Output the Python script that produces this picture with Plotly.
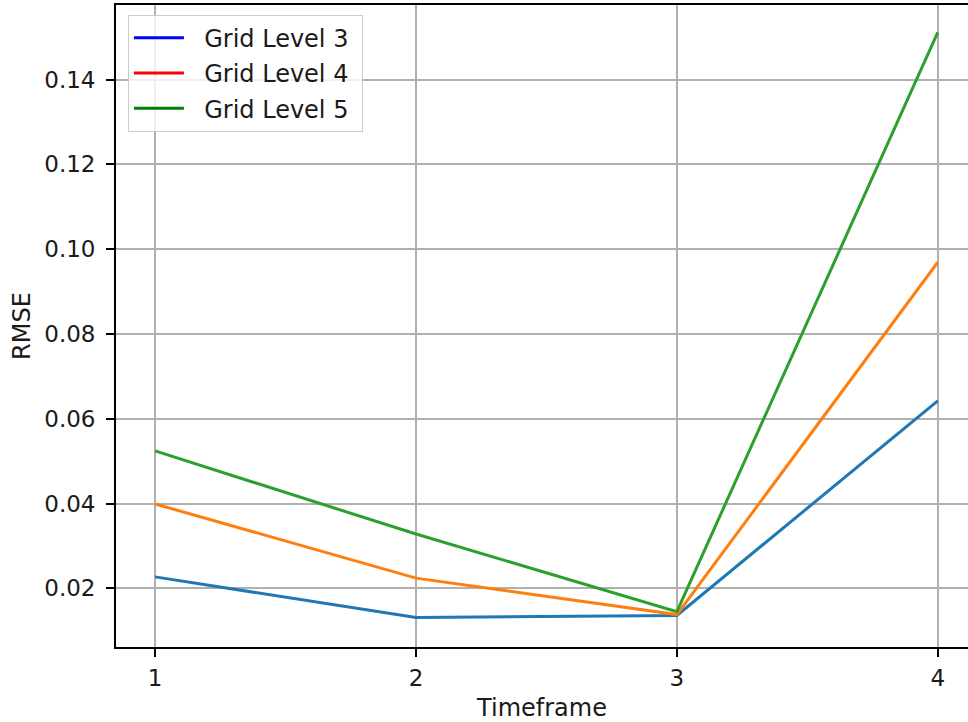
import plotly.graph_objects as go

# RMSE per timeframe for each grid level
timeframes = [1, 2, 3, 4]
rmse_level3 = [0.0227, 0.0131, 0.0136, 0.0642]
rmse_level4 = [0.0399, 0.0224, 0.0138, 0.0969]
rmse_level5 = [0.0524, 0.0328, 0.0145, 0.1511]

series_names = ["Grid Level 3", "Grid Level 4", "Grid Level 5"]
line_colors = ["#1f77b4", "#ff7f0e", "#2ca02c"]
legend_colors = ["blue", "red", "green"]
y_ticks = [0.02, 0.04, 0.06, 0.08, 0.10, 0.12, 0.14]

FONT = "DejaVu Sans"
TEXT = "#1a1a1a"
NBSP = "\u00a0"

fig = go.Figure()

for values, color in zip([rmse_level3, rmse_level4, rmse_level5], line_colors):
    fig.add_trace(go.Scatter(
        x=timeframes, y=values, mode="lines",
        line=dict(color=color, width=3),
        showlegend=False, hoverinfo="x+y",
    ))

# legend handles carry their own colours
for name, color in zip(series_names, legend_colors):
    fig.add_trace(go.Scatter(
        x=[None], y=[None], mode="lines", name=NBSP * 2 + name + NBSP,
        line=dict(color=color, width=3), legendgroup=name,
    ))

axis_common = dict(
    showgrid=True, gridcolor="#b0b0b0", gridwidth=1.6,
    showline=True, linecolor="black", linewidth=1.8,
    ticks="outside", ticklen=8, tickwidth=1.8, tickcolor="black",
    tickfont=dict(family=FONT, size=23, color=TEXT),
    zeroline=False,
)

fig.update_layout(
    width=968, height=722,
    margin=dict(l=116, r=0, t=5, b=75),
    paper_bgcolor="white", plot_bgcolor="white",
    font=dict(family=FONT, size=23, color=TEXT),
    xaxis=dict(
        **axis_common,
        range=[0.85, 4.116],
        tickvals=timeframes, ticktext=[str(t) for t in timeframes],
        mirror=True, ticklabelstandoff=1,
        title=dict(text="Timeframe", font=dict(family=FONT, size=24, color=TEXT), standoff=11),
    ),
    yaxis=dict(
        **axis_common,
        range=[0.00616, 0.15757],
        tickvals=y_ticks, ticktext=[f"{v:.2f}" for v in y_ticks],
        ticklabelstandoff=6,
        title=dict(text="RMSE", font=dict(family=FONT, size=24, color=TEXT), standoff=7),
    ),
    legend=dict(
        x=0.014, y=0.985, xanchor="left", yanchor="top",
        bgcolor="rgba(255,255,255,0.8)", bordercolor="#cccccc", borderwidth=1,
        font=dict(family=FONT, size=24, color=TEXT),
        tracegroupgap=1, itemwidth=50,
    ),
)

fig.write_html("out.html")
